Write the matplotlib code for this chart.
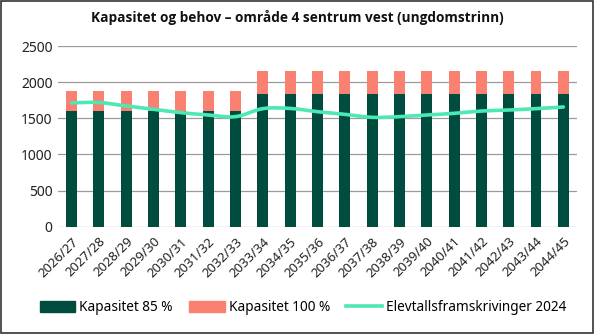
import numpy as np
import matplotlib
matplotlib.use("Agg")
import matplotlib.pyplot as plt
from matplotlib.path import Path
from matplotlib.patches import PathPatch, Rectangle
from matplotlib.lines import Line2D

plt.rcParams['font.family'] = ['Noto Sans', 'DejaVu Sans']

# school years on the x axis
years = ["2026/27", "2027/28", "2028/29", "2029/30", "2030/31", "2031/32", "2032/33",
         "2033/34", "2034/35", "2035/36", "2036/37", "2037/38", "2038/39", "2039/40",
         "2040/41", "2041/42", "2042/43", "2043/44", "2044/45"]
# capacity at 100 % and at 85 % utilisation
kap_100 = [1880, 1880, 1880, 1880, 1880, 1880, 1880,
           2160, 2160, 2160, 2160, 2160, 2160, 2160, 2160, 2160, 2160, 2160, 2160]
kap_85 = [1598, 1598, 1598, 1598, 1598, 1598, 1598,
          1836, 1836, 1836, 1836, 1836, 1836, 1836, 1836, 1836, 1836, 1836, 1836]
# pupil projections 2024
elevtall = [1715, 1720, 1672, 1626, 1580, 1547, 1524, 1635, 1638, 1593,
            1556, 1515, 1524, 1547, 1570, 1602, 1616, 1635, 1658]
yticks = [0, 500, 1000, 1500, 2000, 2500]

DARK = "#004D40"
SALMON = "#FA8072"
MINT = "#4DE8B4"


def smooth_path(xs, ys):
    # Catmull-Rom segments written as cubic Bezier curves
    xs = np.asarray(xs, float); ys = np.asarray(ys, float)
    pts = np.column_stack([xs, ys])
    verts = [pts[0]]
    codes = [Path.MOVETO]
    n = len(pts)
    for i in range(n - 1):
        p0 = pts[i - 1] if i > 0 else pts[i]
        p1 = pts[i]
        p2 = pts[i + 1]
        p3 = pts[i + 2] if i + 2 < n else pts[i + 1]
        c1 = p1 + (p2 - p0) / 6.0
        c2 = p2 - (p3 - p1) / 6.0
        verts += [c1, c2, p2]
        codes += [Path.CURVE4] * 3
    return Path(verts, codes)


fig = plt.figure(figsize=(5.94, 3.34), dpi=100)
ax = fig.add_axes([0.0976, 0.3213, 0.8738, 0.5404])

x = np.arange(len(years))
top_part = np.array(kap_100) - np.array(kap_85)
ax.bar(x, kap_85, width=0.4, color=DARK, zorder=2)
ax.bar(x, top_part, bottom=kap_85, width=0.4, color=SALMON, zorder=2)
ax.add_patch(PathPatch(smooth_path(x, elevtall), fill=False, edgecolor=MINT,
                       linewidth=2.6, capstyle='round', zorder=3))

ax.set_xlim(-0.5, len(years) - 0.5)
ax.set_ylim(0, 2500)
ax.set_yticks(yticks)
ax.set_yticklabels([str(v) for v in yticks], fontsize=10, color="#222222")
ax.set_xticks(x)
ax.set_xticklabels(years, rotation=45, ha='right', rotation_mode='anchor',
                   fontsize=9.5, color="#222222")
ax.tick_params(axis='both', length=0, pad=4)
ax.tick_params(axis='x', pad=6)
ax.yaxis.grid(True, color="#9a9a9a", linewidth=0.9, zorder=0)
for s in ax.spines.values():
    s.set_visible(False)

fig.text(0.5, 0.948, "Kapasitet og behov – område 4 sentrum vest (ungdomstrinn)",
         ha='center', va='center', fontsize=9.8, fontweight='bold', color="#111111",
         family=['Open Sans', 'DejaVu Sans'])

handles = [Rectangle((0, 0), 1, 1, color=DARK),
           Rectangle((0, 0), 1, 1, color=SALMON),
           Line2D([], [], color=MINT, linewidth=2.6)]
labels = ["Kapasitet 85 %", "Kapasitet 100 %", "Elevtallsframskrivinger 2024"]
fig.legend(handles, labels, loc='center', bbox_to_anchor=(0.51, 0.078), ncol=3,
           frameon=False, fontsize=9.8, handlelength=2.6, handleheight=0.9,
           handletextpad=0.3, columnspacing=1.2)

fig.add_artist(Rectangle((0.001, 0.002), 0.997, 0.995, transform=fig.transFigure,
                         fill=False, edgecolor="#333333", linewidth=1.2))

fig.savefig("out.png", dpi=100)
